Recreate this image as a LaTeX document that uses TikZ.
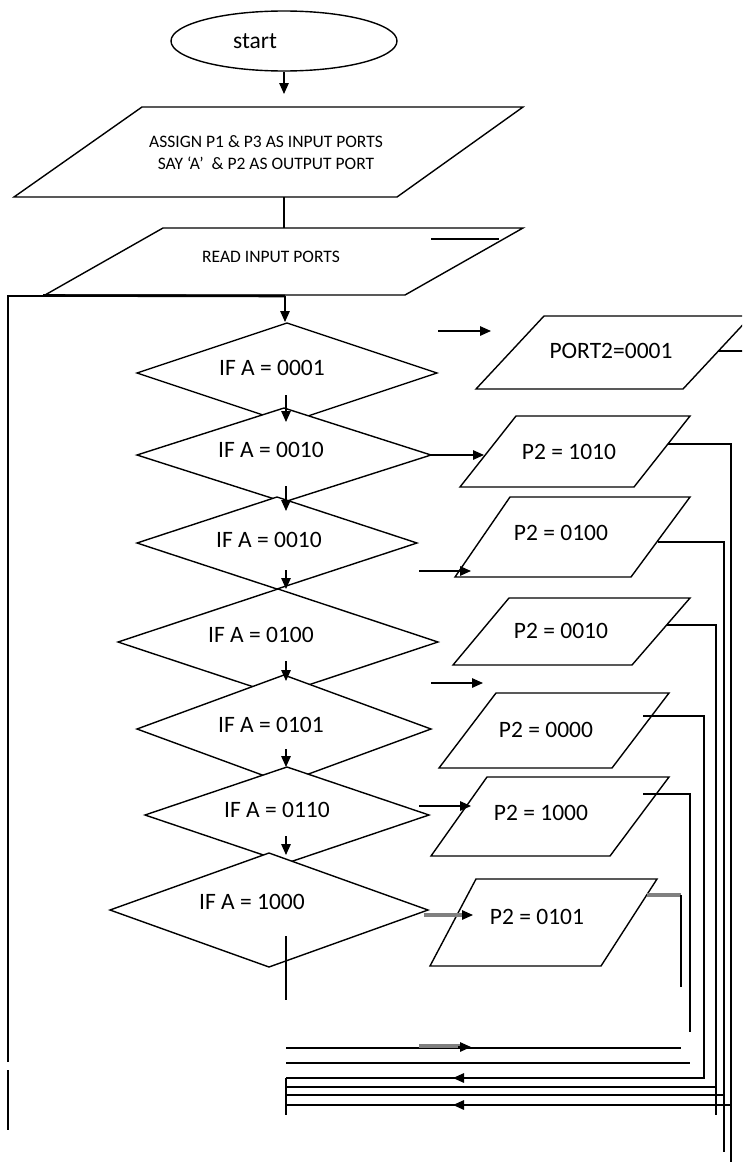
\documentclass[tikz,border=0pt]{standalone}
\usepackage{fontspec}
\setmainfont{Carlito}
\usetikzlibrary{arrows.meta,calc}
\begin{document}
\begin{tikzpicture}[x=1pt,y=-1pt,
  ln/.style={line width=1.4pt, line join=miter},
  shp/.style={ln, fill=white},
  arr/.style={ln, -{Triangle[length=11pt,width=9.5pt]}},
  gry/.style={line width=4pt, black!50},
  big/.style={font=\fontsize{23.5}{28}\selectfont, inner sep=0pt},
  sml/.style={font=\fontsize{17.5}{20}\selectfont, inner sep=0pt, align=center}]
\useasboundingbox (0,0) rectangle (742,1162);
\clip (0,0) rectangle (742,1162);
\fill[white] (0,0) rectangle (742,1162);

% start and input boxes
\draw[ln] (284,41) ellipse [x radius=113, y radius=30];
\draw[shp] (142,107) -- (523,107) -- (397,197) -- (14,197) -- cycle;
\draw[shp] (163,228) -- (523,228) -- (405,295) -- (45,295) -- cycle;
\coordinate (ri1) at (431,239); \coordinate (ri2) at (499,239);
\draw[ln] (ri1) -- (ri2);

% diamonds (each drawn over the previous one)
\draw[shp] (137,373) -- (287,323) -- (437,373) -- (287,423) -- cycle;
\draw[shp] (137,455) -- (284,408) -- (431,455) -- (284,502) -- cycle;
\draw[shp] (137,543) -- (277,497) -- (417,543) -- (277,589) -- cycle;
\draw[shp] (118,642) -- (278,589) -- (438,642) -- (278,695) -- cycle;
\draw[shp] (137,729) -- (284,675) -- (431,729) -- (284,783) -- cycle;
\draw[shp] (145,815) -- (287,767) -- (429,815) -- (287,863) -- cycle;
\draw[shp] (110,910) -- (269,853) -- (428,910) -- (269,967) -- cycle;

% output boxes
\draw[shp] (544,316) -- (751,316) -- (683,389) -- (476,389) -- cycle;
\draw[shp] (516,416) -- (690,416) -- (634,487) -- (460,487) -- cycle;
\draw[shp] (510,497) -- (690,497) -- (631,577) -- (455,577) -- cycle;
\draw[shp] (509,598) -- (690,598) -- (632,665) -- (453,665) -- cycle;
\draw[shp] (496,693) -- (669,693) -- (612,768) -- (439,768) -- cycle;
\draw[shp] (487,777) -- (669,777) -- (610,856) -- (431,856) -- cycle;
\draw[shp] (476,879) -- (657,879) -- (601,966) -- (430,966) -- cycle;

% main flow connectors
\coordinate (a1) at (284,72);  \coordinate (a2) at (284,94);
\coordinate (b1) at (284,197); \coordinate (b2) at (284,228);
\draw[arr] (a1) -- (a2);
\draw[ln] (b1) -- (b2);

% loop line on the left
\coordinate (L0) at (8,1062);  \coordinate (L1) at (8,296);
\coordinate (L2) at (285,296); \coordinate (L3) at (285,322);
\coordinate (L4) at (8,1070);  \coordinate (L5) at (8,1130);
\draw[ln] (L0) -- (L1) -- (L2);
\draw[line width=2.6pt] (43,295.5) -- (L2);
\draw[arr] (L2) -- (L3);
\draw[ln] (L4) -- (L5);

% arrows between diamonds
\foreach \n/\ya/\yb in {1/395/422, 2/486/511, 3/570/589, 4/661/681, 5/749/767, 6/836/855}{
  \coordinate (d\n a) at (286,\ya); \coordinate (d\n b) at (286,\yb);
  \draw[arr] (d\n a) -- (d\n b);
}
\coordinate (d7a) at (286,936); \coordinate (d7b) at (286,1000);
\draw[ln] (d7a) -- (d7b);

% arrows towards the output boxes
\coordinate (o0a) at (438,331); \coordinate (o0b) at (491,331);
\coordinate (o1a) at (431,455); \coordinate (o1b) at (484,455);
\coordinate (o2a) at (419,571); \coordinate (o2b) at (471,571);
\coordinate (o3a) at (431,683); \coordinate (o3b) at (483,683);
\coordinate (o5a) at (419,806); \coordinate (o5b) at (471,806);
\coordinate (o6a) at (424,915); \coordinate (o6b) at (473,915);
\draw[arr] (o0a) -- (o0b);
\draw[arr] (o1a) -- (o1b);
\draw[arr] (o2a) -- (o2b);
\draw[arr] (o3a) -- (o3b);
\draw[arr] (o5a) -- (o5b);
\draw[gry] (o6a) -- ($(o6b)+(-8,0)$);
\draw[arr] ($(o6b)+(-3,0)$) -- (o6b);

% return lines from the output boxes
\coordinate (r0a) at (718,351); \coordinate (r0b) at (745,351);
\draw[ln] (r0a) -- (r0b);
\coordinate (r1a) at (668,444); \coordinate (r1b) at (731,444); \coordinate (r1c) at (731,1165);
\draw[ln] (r1a) -- (r1b) -- (r1c);
\coordinate (r2a) at (658,542); \coordinate (r2b) at (724,542); \coordinate (r2c) at (724,1152);
\draw[ln] (r2a) -- (r2b) -- (r2c);
\coordinate (r3a) at (667,625); \coordinate (r3b) at (716,625); \coordinate (r3c) at (716,1115);
\draw[ln] (r3a) -- (r3b) -- (r3c);
\coordinate (r4a) at (643,716); \coordinate (r4b) at (704,716); \coordinate (r4c) at (704,1078); \coordinate (r4d) at (286,1078);
\draw[ln] (r4a) -- (r4b) -- (r4c) -- (r4d);
\coordinate (r5a) at (643,794); \coordinate (r5b) at (690,794); \coordinate (r5c) at (690,1032);
\draw[ln] (r5a) -- (r5b) -- (r5c);
\coordinate (r6a) at (647,895); \coordinate (r6b) at (681,895); \coordinate (r6c) at (681,987);
\draw[gry] (r6a) -- (r6b);
\draw[ln] (r6b) -- (r6c);

% bottom collector lines
\coordinate (h1a) at (286,1048); \coordinate (h1b) at (681,1048);
\coordinate (h2a) at (286,1063); \coordinate (h2b) at (690,1063);
\coordinate (h4a) at (286,1087); \coordinate (h4b) at (716,1087);
\coordinate (h5a) at (286,1095); \coordinate (h5b) at (724,1095);
\coordinate (h6a) at (286,1105); \coordinate (h6b) at (731,1105);
\coordinate (v1) at (286,1115);
\draw[ln] (h1a) -- (h1b);
\draw[ln] (h2a) -- (h2b);
\draw[ln] (h4a) -- (h4b);
\draw[ln] (h5a) -- (h5b);
\draw[ln] (h6a) -- (h6b);
\draw[ln] (r4d) -- (v1);
\draw[gry] (419,1046) -- (462,1046);
\draw[arr] (458,1047) -- (471,1047);
\draw[arr] (466,1078) -- (453,1078);
\draw[arr] (466,1105) -- (453,1105);

% texts
\node[big] (tstart) at (255,41) {start};
\node[sml] (tassign) at (266,153) {ASSIGN P1 \& P3 AS INPUT PORTS\\[2pt]SAY ‘A’ \ \& P2 AS OUTPUT PORT};
\node[sml] (tread) at (271,257) {READ INPUT PORTS};
\node[big] (q1) at (272,368) {IF A = 0001};
\node[big] (q2) at (271,450) {IF A = 0010};
\node[big] (q3) at (269,540) {IF A = 0010};
\node[big] (q4) at (261,635) {IF A = 0100};
\node[big] (q5) at (271,725) {IF A = 0101};
\node[big] (q6) at (277,810) {IF A = 0110};
\node[big] (q7) at (252,902) {IF A = 1000};
\node[big] (p0) at (611,351) {PORT2=0001};
\node[big] (p1) at (569,452) {P2 = 1010};
\node[big] (p2) at (561,533) {P2 = 0100};
\node[big] (p3) at (561,631) {P2 = 0010};
\node[big] (p4) at (546,730) {P2 = 0000};
\node[big] (p5) at (541,813) {P2 = 1000};
\node[big] (p6) at (537,917) {P2 = 0101};
\end{tikzpicture}
\end{document}
